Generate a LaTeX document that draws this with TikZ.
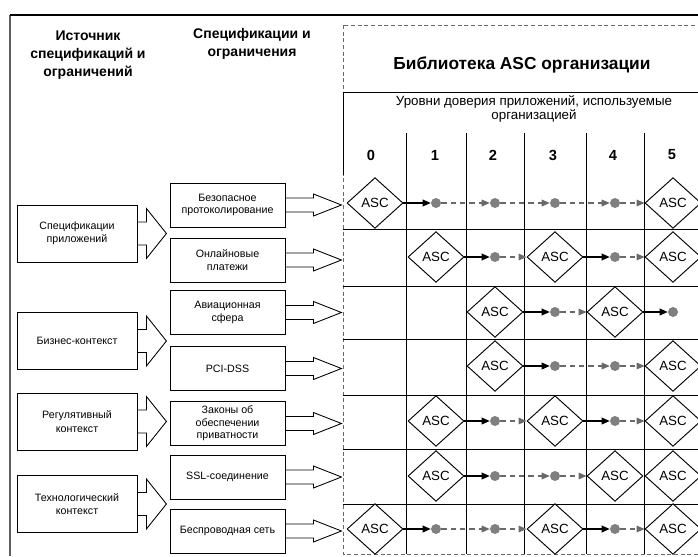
\documentclass[tikz,border=0pt]{standalone}
\usepackage{fontspec}
\setmainfont{Liberation Sans}
\usetikzlibrary{shapes.geometric,arrows.meta}

\definecolor{dotgray}{RGB}{128,128,128}
\definecolor{dashgray}{RGB}{105,105,105}
\definecolor{framegray}{RGB}{95,95,95}

\begin{document}
\begin{tikzpicture}[x=0.75pt,y=-0.75pt,
  srcbox/.style={draw=black, line width=0.65pt, minimum width=90pt, minimum height=42.75pt,
                 align=center, inner sep=1pt, font=\fontsize{8}{10}\selectfont},
  specbox/.style={draw=black, line width=0.65pt, minimum width=86.25pt, minimum height=33pt,
                  align=center, inner sep=1pt, font=\fontsize{8}{9.5}\selectfont},
  headtext/.style={align=center, anchor=north, font=\bfseries\fontsize{10.5}{13.5}\selectfont},
  level/.style={font=\bfseries\fontsize{11}{13}\selectfont},
  asc/.style={diamond, draw=black, fill=white, line width=0.7pt, minimum width=42pt,
              minimum height=38pt, inner sep=0pt, font=\fontsize{10}{12}\selectfont},
  dot/.style={circle, fill=dotgray, minimum size=7.5pt, inner sep=0pt},
  firm/.style={-{Triangle[length=6pt,width=5pt]}, line width=1pt, black},
  loose/.style={-{Triangle[length=6pt,width=5pt]}, line width=0.8pt, dashgray,
                dash pattern=on 4pt off 3pt},
  blockarrow/.style={draw=black, line width=0.65pt, line join=miter},
]
\useasboundingbox (0,0) rectangle (698,556);
\clip (0,0) rectangle (698,556);

% outer frame
\draw[framegray, line width=0.8pt] (10,556) -- (10,15);
\draw[black, line width=1.4pt] (10,15) -- (698,15);

% column headers
\node[headtext] (srchead) at (88,26) {Источник\\спецификаций и\\ограничений};
\node[headtext] (spechead) at (252,24) {Спецификации и\\ограничения};

% library frame
\draw[dashgray, line width=0.7pt, dash pattern=on 3pt off 2pt] (343,25) rectangle (720,554);
\draw[black, line width=0.65pt] (343,92) -- (720,92);
\draw[black, line width=0.65pt] (343,92) -- (343,175);
\node[font=\bfseries\fontsize{13}{15}\selectfont] (libtitle) at (522,65) {Библиотека ASC организации};
\node[align=center, font=\fontsize{10}{11}\selectfont] (levelhead) at (534,109)
      {Уровни доверия приложений, используемые\\организацией};

% grid
\foreach \gx in {406,466,524,586,644}
  \draw[black, line width=0.65pt] (\gx,133) -- (\gx,554);
\foreach \gy in {229,286,339,395,449,504}
  \draw[black, line width=0.65pt] (343,\gy) -- (720,\gy);

\node[level] (lv0) at (371,155) {0};
\node[level] (lv1) at (435,155) {1};
\node[level] (lv2) at (493,155) {2};
\node[level] (lv3) at (553,155) {3};
\node[level] (lv4) at (613,155) {4};
\node[level] (lv5) at (672,155) {5};

% sources
\node[srcbox] (src1) at (77,233.5) {Спецификации\\приложений};
\node[srcbox] (src2) at (77,341) {Бизнес-контекст};
\node[srcbox] (src3) at (77,421.5) {Регулятивный\\контекст};
\node[srcbox] (src4) at (77,504) {Технологический\\контекст};

\foreach \n in {src1,src2,src3,src4}
  \draw[blockarrow] (\n.east) ++(0,-11.5) -- ++(9,0) -- ++(0,-13.5) -- ++(20,25)
        -- ++(-20,25) -- ++(0,-13.5) -- ++(-9,0);

% specifications
\node[specbox] (spec1) at (227.5,205) {Безопасное\\протоколирование};
\node[specbox] (spec2) at (227.5,260) {Онлайновые\\платежи};
\node[specbox] (spec3) at (227.5,312.5) {Авиационная\\сфера};
\node[specbox] (spec4) at (227.5,368.5) {PCI-DSS};
\node[specbox] (spec5) at (227.5,423.5) {Законы об\\обеспечении\\приватности};
\node[specbox] (spec6) at (227.5,477) {SSL-соединение};
\node[specbox] (spec7) at (227.5,531) {Беспроводная сеть};

\foreach \n in {spec1,spec2,spec3,spec4,spec5,spec6,spec7}
  \draw[blockarrow] (\n.east) ++(0,-7) -- ++(28,0) -- ++(0,-4) -- ++(28,11)
        -- ++(-28,11) -- ++(0,-4) -- ++(-28,0);

% row 1
\node[asc] (a10) at (375,203) {ASC};
\node[dot] (p11) at (436,203) {};
\node[dot] (p12) at (495,203) {};
\node[dot] (p13) at (555,203) {};
\node[dot] (p14) at (615,203) {};
\node[asc] (a15) at (673,203) {ASC};
\draw[firm] (a10) -- (p11);
\draw[loose] (p11) -- (p12);
\draw[loose] (p12) -- (p13);
\draw[loose] (p13) -- (p14);
\draw[loose] (p14) -- (a15);

% row 2
\node[asc] (a21) at (436,257) {ASC};
\node[dot] (p22) at (495,257) {};
\node[asc] (a23) at (555,257) {ASC};
\node[dot] (p24) at (615,257) {};
\node[asc] (a25) at (673,257) {ASC};
\draw[firm] (a21) -- (p22);
\draw[loose] (p22) -- (a23);
\draw[firm] (a23) -- (p24);
\draw[loose] (p24) -- (a25);

% row 3
\node[asc] (a32) at (495,312) {ASC};
\node[dot] (p33) at (555,312) {};
\node[asc] (a34) at (615,312) {ASC};
\node[dot] (p35) at (673,312) {};
\draw[firm] (a32) -- (p33);
\draw[loose] (p33) -- (a34);
\draw[firm] (a34) -- (p35);

% row 4
\node[asc] (a42) at (495,366) {ASC};
\node[dot] (p43) at (555,366) {};
\node[dot] (p44) at (615,366) {};
\node[asc] (a45) at (673,366) {ASC};
\draw[firm] (a42) -- (p43);
\draw[loose] (p43) -- (p44);
\draw[loose] (p44) -- (a45);

% row 5
\node[asc] (a51) at (436,421) {ASC};
\node[dot] (p52) at (495,421) {};
\node[asc] (a53) at (555,421) {ASC};
\node[dot] (p54) at (615,421) {};
\node[asc] (a55) at (673,421) {ASC};
\draw[firm] (a51) -- (p52);
\draw[loose] (p52) -- (a53);
\draw[firm] (a53) -- (p54);
\draw[loose] (p54) -- (a55);

% row 6
\node[asc] (a61) at (436,476) {ASC};
\node[dot] (p62) at (495,476) {};
\node[dot] (p63) at (555,476) {};
\node[asc] (a64) at (615,476) {ASC};
\node[asc] (a65) at (673,476) {ASC};
\draw[firm] (a61) -- (p62);
\draw[loose] (p62) -- (p63);
\draw[loose] (p63) -- (a64);

% row 7
\node[asc] (a70) at (375,529) {ASC};
\node[dot] (p71) at (436,529) {};
\node[dot] (p72) at (495,529) {};
\node[asc] (a73) at (555,529) {ASC};
\node[dot] (p74) at (615,529) {};
\node[asc] (a75) at (673,529) {ASC};
\draw[firm] (a70) -- (p71);
\draw[loose] (p71) -- (p72);
\draw[loose] (p72) -- (a73);
\draw[firm] (a73) -- (p74);
\draw[loose] (p74) -- (a75);
\end{tikzpicture}
\end{document}
